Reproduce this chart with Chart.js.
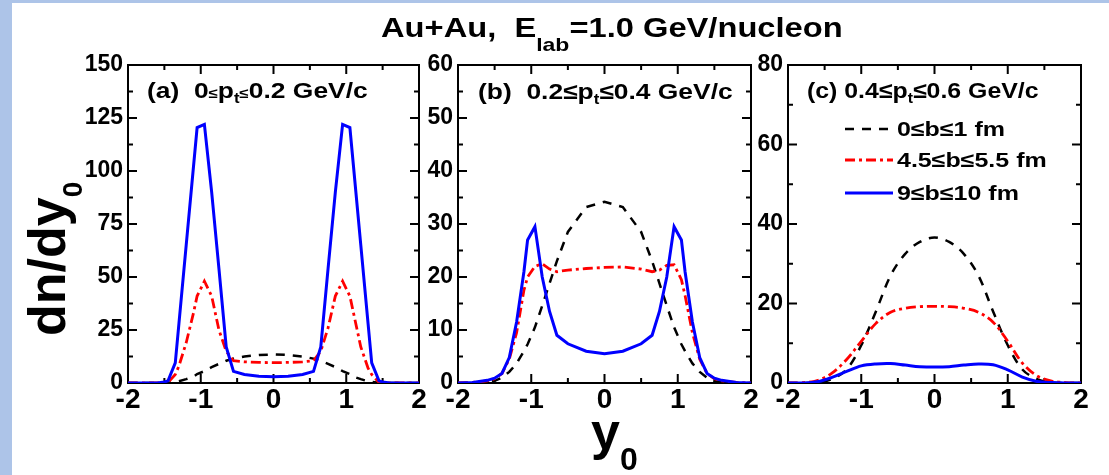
<!DOCTYPE html>
<html>
<head>
<meta charset="utf-8">
<script src="https://cdn.jsdelivr.net/npm/chart.js@4.4.1/dist/chart.umd.min.js"></script>
<style>
html, body { margin: 0; padding: 0; }
body { width: 1109px; height: 475px; background: #adc4e8; position: relative; overflow: hidden;
       font-family: 'Liberation Sans', Arial, sans-serif; }
#page { position: absolute; left: 12px; top: 3px; right: 0; bottom: 0; background: #fff; }
canvas { position: absolute; }
.t { position: absolute; font-weight: bold; white-space: nowrap; line-height: 1; color: #000; transform-origin: 0 0; }
.t span { position: relative; }
</style>
</head>
<body>
<div id="page"></div>

<canvas id="ca" width="360" height="380" style="left:70px;top:40px"></canvas>
<canvas id="cb" width="362" height="380" style="left:400px;top:40px"></canvas>
<canvas id="cc" width="362" height="380" style="left:730px;top:40px"></canvas>

<div class="t" style="left:381px;top:15px;font-size:27px;transform:scaleX(1.21)">Au+Au,&nbsp; E<span style="font-size:19px;top:14px">lab</span>=1.0 GeV/nucleon</div>

<div class="t" style="left:147px;top:80px;font-size:22px;transform:scaleX(1.2)">(a)&nbsp; 0<span style="font-size:14px">≤</span>p<span style="font-size:14px;top:5px">t</span><span style="font-size:14px">≤</span>0.2 GeV/c</div>
<div class="t" style="left:478px;top:81px;font-size:22px;transform:scaleX(1.2)">(b)&nbsp; 0.2≤p<span style="font-size:14px;top:5px">t</span>≤0.4 GeV/c</div>
<div class="t" style="left:807px;top:80px;font-size:22px;transform:scaleX(1.13)">(c) 0.4≤p<span style="font-size:14px;top:5px">t</span>≤0.6 GeV/c</div>

<div class="t" style="left:21px;top:336px;font-size:52px;transform:rotate(-90deg)">dn/dy<span style="font-size:28px;top:17px">0</span></div>
<div class="t" style="left:591px;top:405px;font-size:52px">y<span style="font-size:32px;top:21px">0</span></div>

<div id="legend"></div>

<script>
// legend labels (impact parameter bins)
const seriesLabels = ['0≤b≤1 fm', '4.5≤b≤5.5 fm', '9≤b≤10 fm'];

// panel (a): 0 <= pt <= 0.2 GeV/c
const gridA = [-2, -1.6, -1.5, -1.45, -1.35, -1.3, -1.2, -1.1, -1.05, -0.95, -0.85, -0.75, -0.65, -0.55, -0.4, -0.2,
               0, 0.2, 0.4, 0.55, 0.65, 0.75, 0.85, 0.95, 1.05, 1.1, 1.2, 1.3, 1.35, 1.45, 1.5, 1.6, 2];
const blackA = [0, 0, 0, 0.1, 0.5, 0.8, 1.8, 3, 4.2, 5.6, 7.5, 9, 10.5, 11.5, 12.5, 13.2,
                13.5, 13.2, 12.5, 11.5, 10.5, 9, 7.5, 5.6, 4.2, 3, 1.8, 0.8, 0.5, 0.1, 0, 0, 0];
const redA = [0, 0, 0, 0.2, 4, 8, 19, 33, 41, 48, 41, 25, 15, 10.5, 10, 9.7,
              9.6, 9.7, 10, 10.5, 15, 26, 41, 48, 41, 33, 17, 7, 4, 0.3, 0, 0, 0];
const blueA = [0, 0, 0.5, 1, 9.5, 28, 65, 102, 120.5, 122, 90, 54, 17, 5.5, 4, 3.2,
               3, 3.2, 4, 5.5, 17, 54, 90, 122, 120.5, 102, 65, 28, 9.5, 1, 0.5, 0, 0];

// panel (b): 0.2 <= pt <= 0.4 GeV/c
const gridB = [-2, -1.8, -1.6, -1.5, -1.4, -1.3, -1.2, -1.1, -1.05, -0.95, -0.85, -0.75, -0.65, -0.5, -0.25,
               0, 0.25, 0.5, 0.65, 0.75, 0.85, 0.95, 1.05, 1.1, 1.2, 1.3, 1.4, 1.5, 1.6, 1.8, 2];
const blackB = [0, 0, 0.1, 0.4, 1, 2.1, 3.7, 6, 7.3, 10.5, 14.6, 18.8, 23, 28.5, 33.2,
                34.2, 33.2, 28.5, 23, 18.8, 14.6, 10.5, 7.3, 6, 3.7, 2.1, 1, 0.4, 0.1, 0, 0];
const redB = [0, 0.1, 0.4, 0.8, 1.8, 4.5, 9.5, 17.5, 20, 22, 22.5, 21.5, 21, 21.3, 21.6,
              21.8, 21.9, 21.5, 21, 21.3, 22.2, 22.3, 19.5, 16.5, 9.5, 4.5, 1.8, 0.8, 0.4, 0.1, 0];
const blueB = [0, 0.1, 0.5, 0.9, 1.8, 4.8, 11.5, 21, 27, 29.5, 20, 13.5, 9, 7.4, 6,
               5.5, 6, 7.4, 9, 13.5, 20, 29.5, 27, 21, 11.5, 4.8, 1.8, 0.9, 0.5, 0.1, 0];

// panel (c): 0.4 <= pt <= 0.6 GeV/c
const gridC = [-2, -1.8, -1.6, -1.4, -1.2, -1, -0.8, -0.6, -0.4, -0.2, 0, 0.2, 0.4, 0.6, 0.8, 1, 1.2, 1.4, 1.6, 1.8, 2];
const blackC = [0, 0, 0.1, 1, 3.4, 9.5, 18, 27, 32.5, 35.5, 36.6, 35.5, 32.5, 27, 18, 9.5, 3.4, 1, 0.1, 0, 0];
const redC = [0, 0.1, 0.6, 2.5, 5.9, 10.5, 15, 17.8, 18.8, 19.2, 19.3, 19.2, 18.8, 17.8, 15.3, 10.5, 5, 1.8, 0.5, 0.1, 0];
const blueC = [0, 0, 0.3, 1.4, 2.9, 4.3, 4.8, 4.9, 4.5, 4.1, 4, 4.1, 4.5, 4.8, 4.6, 3.3, 1.5, 0.4, 0.1, 0, 0];

// axis ranges / ticks
const xRange = [-2, 2];
const yMaxes = [150, 60, 80];
const yMajors = [25, 10, 20];

const FONT = "'Liberation Sans', Arial, sans-serif";
Chart.defaults.font.family = FONT;
Chart.defaults.color = '#000';

const lineStyles = [
  { borderColor: '#000000', borderWidth: 2.5, borderDash: [9, 8], order: 2 },
  { borderColor: '#ff0000', borderWidth: 2.8, borderDash: [10, 4, 3, 4], order: 1 },
  { borderColor: '#0000ff', borderWidth: 3, borderDash: [], order: 0 }
];

function isMajor(v, step) {
  const r = v / step;
  return Math.abs(r - Math.round(r)) < 1e-6;
}

// frame box with inward major/minor ticks on all four sides
const frameTicks = {
  id: 'frameTicks',
  beforeDatasetsDraw(chart, args, o) {
    const { ctx, chartArea: a } = chart;
    const x = chart.scales.x, y = chart.scales.y;
    ctx.save();
    ctx.strokeStyle = '#000';
    ctx.lineWidth = 2;
    ctx.strokeRect(a.left, a.top, a.right - a.left, a.bottom - a.top);
    ctx.beginPath();
    let n = Math.round((x.max - x.min) / o.xMinor);
    for (let i = 1; i < n; i++) {
      const v = x.min + i * o.xMinor;
      const len = isMajor(v, o.xMajor) ? 9 : 5;
      const p = x.getPixelForValue(v);
      ctx.moveTo(p, a.bottom); ctx.lineTo(p, a.bottom - len);
      ctx.moveTo(p, a.top); ctx.lineTo(p, a.top + len);
    }
    n = Math.round((y.max - y.min) / o.yMinor);
    for (let i = 1; i < n; i++) {
      const v = y.min + i * o.yMinor;
      const len = isMajor(v, o.yMajor) ? 9 : 5;
      const p = y.getPixelForValue(v);
      ctx.moveTo(a.left, p); ctx.lineTo(a.left + len, p);
      ctx.moveTo(a.right, p); ctx.lineTo(a.right - len, p);
    }
    ctx.stroke();
    ctx.restore();
  }
};

function makePanel(id, grid, series, idx, tension) {
  const datasets = series.map((vals, k) => Object.assign({
    label: seriesLabels[k],
    data: grid.map((xv, i) => ({ x: xv, y: vals[i] })),
    showLine: true,
    pointRadius: 0,
    tension: tension,
    fill: false
  }, lineStyles[k]));

  return new Chart(document.getElementById(id), {
    type: 'scatter',
    data: { datasets: datasets },
    options: {
      responsive: false,
      animation: false,
      events: [],
      layout: { padding: { left: 0, top: 25, right: 11, bottom: 0 } },
      plugins: {
        legend: { display: false },
        tooltip: { enabled: false },
        frameTicks: { xMajor: 1, xMinor: 0.5, yMajor: yMajors[idx], yMinor: yMajors[idx] / 2 }
      },
      scales: {
        x: {
          type: 'linear', min: xRange[0], max: xRange[1],
          grid: { display: false, drawTicks: false },
          border: { display: false },
          ticks: { stepSize: 1, padding: 0, font: { size: 28, weight: 'bold' }, color: '#000' },
          afterFit: s => { s.height = 37; }
        },
        y: {
          type: 'linear', min: 0, max: yMaxes[idx],
          grid: { display: false, drawTicks: false },
          border: { display: false },
          ticks: { stepSize: yMajors[idx], padding: 5, font: { size: 23, weight: 'bold' }, color: '#000' },
          afterFit: s => { s.width = 58; }
        }
      }
    },
    plugins: [frameTicks]
  });
}

makePanel('ca', gridA, [blackA, redA, blueA], 0, 0);
makePanel('cb', gridB, [blackB, redB, blueB], 1, 0);
const chartC = makePanel('cc', gridC, [blackC, redC, blueC], 2, 0.35);

// legend inside panel (c), built from the chart's datasets
const legend = document.getElementById('legend');
const rowBaselines = [136, 167, 200];
chartC.data.datasets.forEach((ds, k) => {
  const lineY = rowBaselines[k] - 7;
  const svg = document.createElementNS('http://www.w3.org/2000/svg', 'svg');
  svg.setAttribute('width', '50');
  svg.setAttribute('height', '8');
  svg.style.cssText = 'position:absolute;left:844px;top:' + (lineY - 4) + 'px';
  const ln = document.createElementNS('http://www.w3.org/2000/svg', 'line');
  ln.setAttribute('x1', '1'); ln.setAttribute('x2', '49');
  ln.setAttribute('y1', '4'); ln.setAttribute('y2', '4');
  ln.setAttribute('stroke', ds.borderColor);
  ln.setAttribute('stroke-width', ds.borderWidth);
  if (ds.borderDash.length) ln.setAttribute('stroke-dasharray', ds.borderDash.join(' '));
  svg.appendChild(ln);
  legend.appendChild(svg);

  const txt = document.createElement('div');
  txt.className = 't';
  txt.style.cssText = 'left:897px;top:' + (rowBaselines[k] - 17) + 'px;font-size:20px;transform:scaleX(1.25)';
  txt.textContent = ds.label;
  legend.appendChild(txt);
});
</script>
</body>
</html>
